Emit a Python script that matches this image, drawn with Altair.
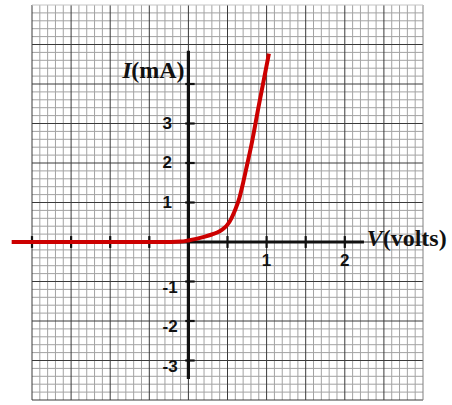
import numpy as np
import pandas as pd
import altair as alt

# Diode I-V characteristic: forward voltage (V) and current (mA)
volts = [-2.26, -1.0, -0.22, -0.1, 0.0, 0.1, 0.2, 0.3, 0.4, 0.45, 0.5, 0.55,
         0.6, 0.65, 0.7, 0.75, 0.8, 0.9, 1.03]
milliamps = [0.0, 0.0, 0.0, 0.01, 0.04, 0.08, 0.13, 0.19, 0.27, 0.34, 0.44, 0.6,
             0.82, 1.1, 1.5, 1.95, 2.4, 3.45, 4.77]

# Tick labels on the centred axes
x_tick_labels = [1, 2]
y_tick_labels = [1, 2, 3, -1, -2, -3]
x_axis_ticks = [-2, -1.5, -1, -0.5, 0.5, 1, 1.5, 2]
y_axis_ticks = [-3, -2, -1, 1, 2, 3, 4]

# Graph-paper extent and spacing
x_min, x_max, x_major, x_minor = -2.0, 3.0, 0.5, 0.1
y_min, y_max, y_major, y_minor = -4.0, 6.0, 1.0, 0.2

xs = alt.Scale(domain=[x_min, x_max], nice=False, zero=False)
ys = alt.Scale(domain=[y_min, y_max], nice=False, zero=False)


def steps(lo, hi, step):
    n = int(round((hi - lo) / step))
    return [round(lo + i * step, 3) for i in range(n + 1)]


maj_x = steps(x_min, x_max, x_major)
maj_y = steps(y_min, y_max, y_major)
min_x = [v for v in steps(x_min, x_max, x_minor) if v not in maj_x]
min_y = [v for v in steps(y_min, y_max, y_minor) if v not in maj_y]

MINOR = "#a3a3a3"
MAJOR = "#3a3a3a"
INK = "#111111"
RED = "#cc0000"

# Frame with outward ticks on left and bottom
frame = alt.Chart(pd.DataFrame({"v": [x_min], "i": [y_min]})).mark_point(opacity=0).encode(
    x=alt.X("v:Q", scale=xs, axis=alt.Axis(values=maj_x, labels=False, title=None, grid=False,
                                           tickSize=4, tickColor=MAJOR, tickWidth=1,
                                           domainColor=MAJOR, domainWidth=1.5, zindex=1)),
    y=alt.Y("i:Q", scale=ys, axis=alt.Axis(values=maj_y, labels=False, title=None, grid=False,
                                           tickSize=4, tickColor=MAJOR, tickWidth=1,
                                           domainColor=MAJOR, domainWidth=1.5, zindex=1)),
)

minor_v = alt.Chart(pd.DataFrame({"v": min_x})).mark_rule(color=MINOR, strokeWidth=1).encode(
    x=alt.X("v:Q", scale=xs, axis=None))
minor_h = alt.Chart(pd.DataFrame({"i": min_y})).mark_rule(color=MINOR, strokeWidth=1).encode(
    y=alt.Y("i:Q", scale=ys, axis=None))
major_v = alt.Chart(pd.DataFrame({"v": maj_x[:-1]})).mark_rule(color=MAJOR, strokeWidth=1).encode(
    x=alt.X("v:Q", scale=xs, axis=None))
major_h = alt.Chart(pd.DataFrame({"i": maj_y[:-1]})).mark_rule(color=MAJOR, strokeWidth=1).encode(
    y=alt.Y("i:Q", scale=ys, axis=None))
edge_right = alt.Chart(pd.DataFrame({"v": [x_max]})).mark_rule(color="#808080", strokeWidth=1).encode(
    x=alt.X("v:Q", scale=xs, axis=None))
edge_top = alt.Chart(pd.DataFrame({"i": [y_max]})).mark_rule(color="#c4c4c4", strokeWidth=1).encode(
    y=alt.Y("i:Q", scale=ys, axis=None))

# Centred axes
x_line = alt.Chart(pd.DataFrame({"a": [x_min], "b": [2.245], "i": [0.0]})).mark_rule(
    color=INK, strokeWidth=3.2).encode(
    x=alt.X("a:Q", scale=xs, axis=None), x2="b:Q", y=alt.Y("i:Q", scale=ys, axis=None))
y_line = alt.Chart(pd.DataFrame({"v": [0.0], "a": [-3.47], "b": [4.84]})).mark_rule(
    color=INK, strokeWidth=3.2).encode(
    x=alt.X("v:Q", scale=xs, axis=None), y=alt.Y("a:Q", scale=ys, axis=None), y2="b:Q")

x_ticks_df = pd.DataFrame({"v": x_axis_ticks, "lo": -0.15, "hi": 0.15})
x_ticks = alt.Chart(x_ticks_df).mark_rule(color=INK, strokeWidth=2.2, clip=False).encode(
    x=alt.X("v:Q", scale=xs, axis=None), y=alt.Y("lo:Q", scale=ys, axis=None), y2="hi:Q")
y_ticks_df = pd.DataFrame({"i": y_axis_ticks, "lo": -0.04, "hi": 0.08})
y_ticks = alt.Chart(y_ticks_df).mark_rule(color=INK, strokeWidth=2.2).encode(
    y=alt.Y("i:Q", scale=ys, axis=None), x=alt.X("lo:Q", scale=xs, axis=None), x2="hi:Q")

# Current curve
curve = alt.Chart(pd.DataFrame({"v": volts, "i": milliamps})).mark_line(
    color=RED, strokeWidth=4, interpolate="monotone", clip=False, strokeCap="butt").encode(
    x=alt.X("v:Q", scale=xs, axis=None), y=alt.Y("i:Q", scale=ys, axis=None))

# Tick labels
lab_font = dict(font="Liberation Sans", fontWeight="bold", fontSize=17, color=INK, clip=False)
x_labels = alt.Chart(pd.DataFrame({"v": x_tick_labels, "i": -0.48,
                                   "t": [str(v) for v in x_tick_labels]})).mark_text(
    align="center", baseline="middle", **lab_font).encode(
    x=alt.X("v:Q", scale=xs, axis=None), y=alt.Y("i:Q", scale=ys, axis=None), text="t:N")
pos = [v for v in y_tick_labels if v > 0]
neg = [v for v in y_tick_labels if v < 0]
y_labels_pos = alt.Chart(pd.DataFrame({"v": -0.33, "i": pos, "t": [str(v) for v in pos]})).mark_text(
    align="left", baseline="middle", **lab_font).encode(
    x=alt.X("v:Q", scale=xs, axis=None), y=alt.Y("i:Q", scale=ys, axis=None), text="t:N")
y_labels_neg = alt.Chart(pd.DataFrame({"v": -0.33, "i": neg, "t": [str(v) for v in neg]})).mark_text(
    align="left", baseline="middle", dy=6, **lab_font).encode(
    x=alt.X("v:Q", scale=xs, axis=None), y=alt.Y("i:Q", scale=ys, axis=None), text="t:N")

# Axis titles: italic symbol followed by upright unit
title_font = dict(font="Liberation Serif", fontWeight="bold", fontSize=24, color=INK,
                  baseline="alphabetic", clip=False)
i_unit = alt.Chart(pd.DataFrame({"v": [-0.05], "i": [4.15], "t": ["(mA)"]})).mark_text(
    align="right", **title_font).encode(
    x=alt.X("v:Q", scale=xs, axis=None), y=alt.Y("i:Q", scale=ys, axis=None), text="t:N")
i_sym = alt.Chart(pd.DataFrame({"v": [-0.05], "i": [4.15], "t": ["I"]})).mark_text(
    align="right", dx=-53, fontStyle="italic", **title_font).encode(
    x=alt.X("v:Q", scale=xs, axis=None), y=alt.Y("i:Q", scale=ys, axis=None), text="t:N")
v_sym = alt.Chart(pd.DataFrame({"v": [2.28], "i": [-0.1], "t": ["V"]})).mark_text(
    align="left", fontStyle="italic", **title_font).encode(
    x=alt.X("v:Q", scale=xs, axis=None), y=alt.Y("i:Q", scale=ys, axis=None), text="t:N")
v_unit = alt.Chart(pd.DataFrame({"v": [2.28], "i": [-0.1], "t": ["(volts)"]})).mark_text(
    align="left", dx=16, **title_font).encode(
    x=alt.X("v:Q", scale=xs, axis=None), y=alt.Y("i:Q", scale=ys, axis=None), text="t:N")

chart = alt.layer(
    frame, minor_v, minor_h, major_v, major_h, edge_right, edge_top,
    x_line, y_line, x_ticks, y_ticks, curve,
    x_labels, y_labels_pos, y_labels_neg, i_unit, i_sym, v_sym, v_unit,
).properties(
    width=391, height=395,
    autosize=alt.AutoSizeParams(type="none"),
    padding={"left": 32, "top": 5, "right": 29, "bottom": 5},
    background="white",
).configure_view(stroke=None)

chart.save("out.html", embed_options={"renderer": "svg", "actions": False})
